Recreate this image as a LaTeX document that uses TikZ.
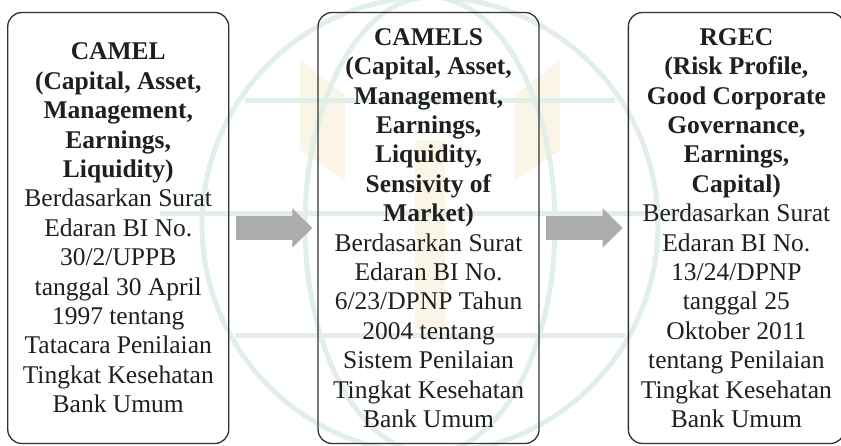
\documentclass[tikz,border=0pt]{standalone}
\usepackage{fontspec}
\setmainfont{Liberation Serif}
\usepackage{xcolor}
\usepackage{tikz}
\usetikzlibrary{positioning, arrows.meta}
\definecolor{boxline}{RGB}{50,50,50}
\definecolor{arrowgray}{RGB}{172,172,172}
\definecolor{globegreen}{RGB}{226,238,232}
\definecolor{globegold}{RGB}{250,245,230}
\tikzset{
  phase/.style={draw=boxline, line width=1.3pt, rounded corners=14pt,
    minimum width=221pt, minimum height=431pt, inner sep=0pt,
    align=center, text=black!88, font=\fontsize{25.5}{29.4}\selectfont},
  fatarrow/.style={arrowgray, line width=24pt,
    -{Triangle[length=20pt, width=38pt]}, shorten <=6.5pt, shorten >=5pt}
}

\begin{document}
\begin{tikzpicture}[x=1pt, y=-1pt, node distance=88pt]
    % Page
    \useasboundingbox (0,0) rectangle (841,445);

    % Faint globe in the background
    \begin{scope}
        \clip (0,0) rectangle (841,445);
        \fill[globegold] (300,60) -- (345,95) -- (345,180) -- (300,150) -- cycle;
        \fill[globegold] (560,60) -- (515,95) -- (515,180) -- (560,150) -- cycle;
        \fill[globegold] (415,140) rectangle (445,330);
        \draw[globegreen, line width=5pt] (430,225) circle (228);
        \draw[globegreen, line width=5pt] (430,225) ellipse (125 and 228);
        \draw[globegreen, line width=5pt] (160,213) -- (700,213);
        \draw[globegreen, line width=5pt] (245,100) -- (615,100);
        \draw[globegreen, line width=5pt] (235,335) -- (625,335);
    \end{scope}

    % Boxes
    \node[phase] (camel) at (118.25,228) {%
        \textbf{CAMEL}\\ \textbf{(Capital, Asset,}\\ \textbf{Management,}\\
        \textbf{Earnings,}\\ \textbf{Liquidity)}\\
        Berdasarkan Surat\\ Edaran BI No.\\ 30/2/UPPB\\ tanggal 30 April\\
        1997 tentang\\ Tatacara Penilaian\\ Tingkat Kesehatan\\ Bank Umum};
    \node[phase, right=of camel] (camels) {%
        \textbf{CAMELS}\\ \textbf{(Capital, Asset,}\\ \textbf{Management,}\\
        \textbf{Earnings,}\\ \textbf{Liquidity,}\\ \textbf{Sensivity of}\\
        \textbf{Market)}\\
        Berdasarkan Surat\\ Edaran BI No.\\ 6/23/DPNP Tahun\\ 2004 tentang\\
        Sistem Penilaian\\ Tingkat Kesehatan\\ Bank Umum};
    \node[phase, minimum width=216pt, right=of camels] (rgec) {%
        \textbf{RGEC}\\ \textbf{(Risk Profile,}\\ \textbf{Good Corporate}\\
        \textbf{Governance,}\\ \textbf{Earnings,}\\ \textbf{Capital)}\\
        Berdasarkan Surat\\ Edaran BI No.\\ 13/24/DPNP\\ tanggal 25\\
        Oktober 2011\\ tentang Penilaian\\ Tingkat Kesehatan\\ Bank Umum};

    % Arrows
    \draw[fatarrow] (camel) -- (camels);
    \draw[fatarrow] (camels) -- (rgec);
\end{tikzpicture}
\end{document}
